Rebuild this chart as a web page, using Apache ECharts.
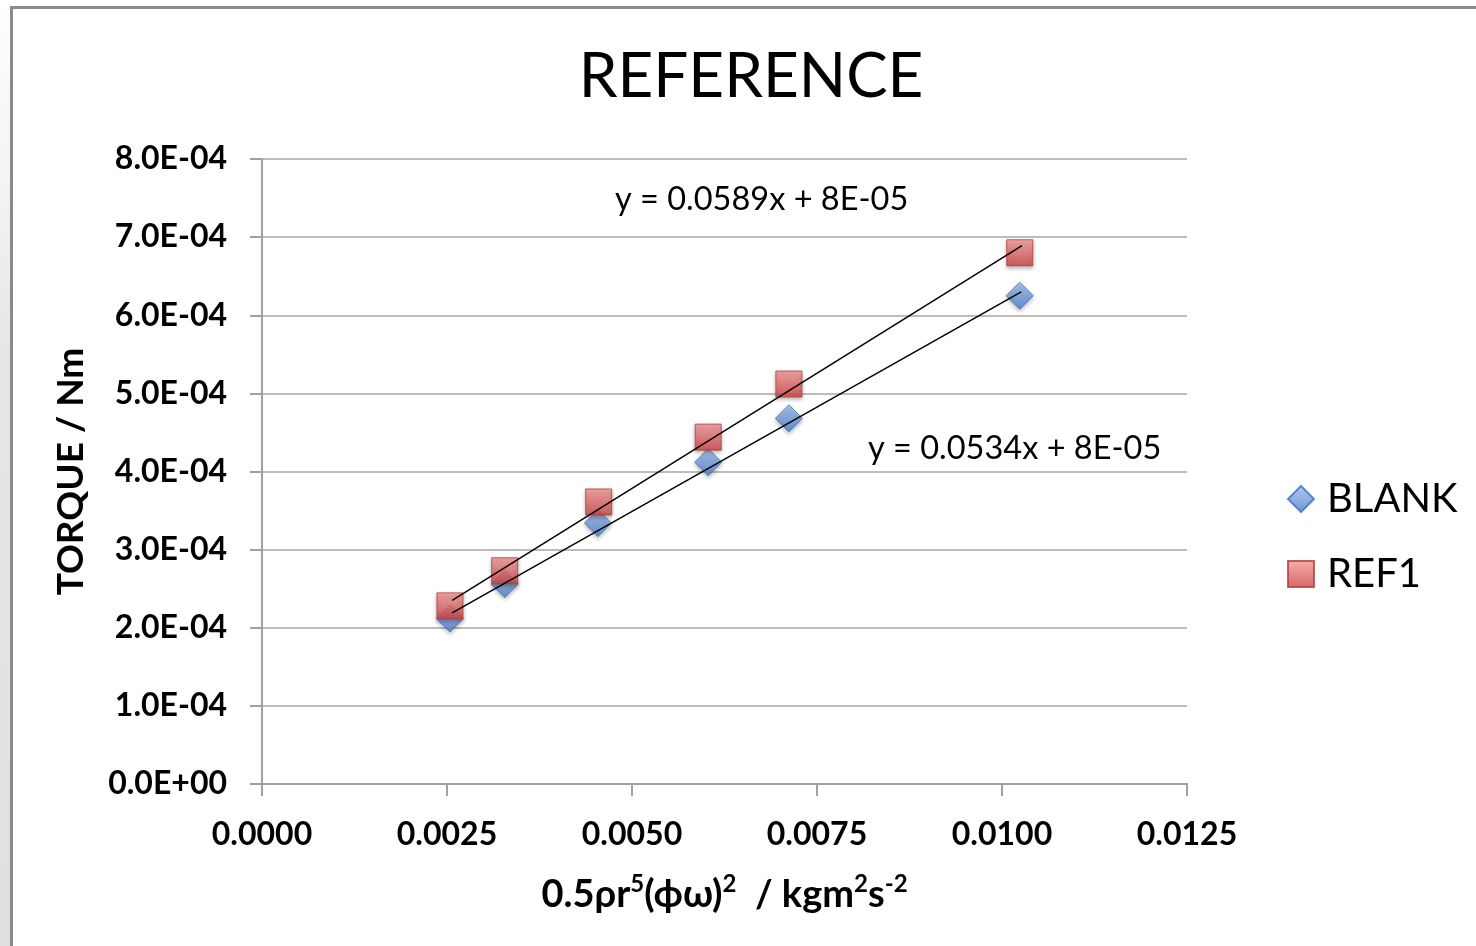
<!DOCTYPE html>
<html>
<head>
<meta charset="utf-8">
<script src="https://cdn.jsdelivr.net/npm/echarts@6/dist/echarts.min.js"></script>
<style>
  html, body { margin: 0; padding: 0; background: #fff; }
  #strip { position: absolute; left: 0; top: 0; width: 10px; height: 946px;
    background: linear-gradient(to bottom, #ffffff 0%, #e4e6e4 40%, #dfe1df 100%); }
  #frameTop { position: absolute; left: 10px; top: 6px; width: 1466px; height: 3px; background: #8a8a8a; }
  #frameLeft { position: absolute; left: 10px; top: 6px; width: 3px; height: 940px; background: #8a8a8a; }
  #chart { position: absolute; left: 0; top: 0; width: 1476px; height: 946px; }
</style>
</head>
<body>
<div id="strip"></div>
<div id="frameTop"></div>
<div id="frameLeft"></div>
<div id="chart"></div>
<script>
// values
var blankX = [0.00254, 0.00328, 0.00454, 0.00603, 0.00712, 0.01024];
var blankY = [2.12e-4, 2.56e-4, 3.34e-4, 4.12e-4, 4.68e-4, 6.25e-4];
var ref1X  = [0.00254, 0.00328, 0.00455, 0.00603, 0.00712, 0.01024];
var ref1Y  = [2.28e-4, 2.73e-4, 3.61e-4, 4.44e-4, 5.12e-4, 6.80e-4];

// trendline end points (as drawn)
var blankTrendX = [0.00257, 0.01026];
var blankTrendY = [2.19e-4, 6.30e-4];
var ref1TrendX  = [0.00257, 0.01027];
var ref1TrendY  = [2.35e-4, 6.89e-4];

var blankEq = 'y = 0.0534x + 8E-05';
var ref1Eq  = 'y = 0.0589x + 8E-05';

function pairs(xs, ys) {
  return xs.map(function (x, i) { return [x, ys[i]]; });
}

function sciLabel(v) {
  if (v === 0) return '0.0E+00';
  var s = v.toExponential(1).split('e');
  var e = parseInt(s[1], 10);
  var sign = e < 0 ? '-' : '+';
  var a = Math.abs(e);
  return s[0] + 'E' + sign + (a < 10 ? '0' + a : a);
}

var font = 'Lato, "Open Sans", sans-serif';

var blueFill = new echarts.graphic.LinearGradient(0, 0, 0, 1, [
  { offset: 0, color: '#9dbcec' },
  { offset: 1, color: '#4a7fcf' }
]);
var redFill = new echarts.graphic.LinearGradient(0, 0, 0, 1, [
  { offset: 0, color: '#f59a98' },
  { offset: 1, color: '#cf4040' }
]);

var chart = echarts.init(document.getElementById('chart'));

chart.setOption({
  backgroundColor: 'transparent',
  animation: false,
  textStyle: { fontFamily: font },
  title: {
    text: 'REFERENCE',
    left: 746,
    top: 41,
    textAlign: 'center',
    textStyle: { fontSize: 62, fontWeight: 'normal', color: '#000', fontFamily: font }
  },
  grid: { left: 262, right: 289, top: 159, bottom: 162 },
  legend: {
    orient: 'vertical',
    left: 1282,
    top: 469,
    data: ['BLANK', 'REF1'],
    itemWidth: 26,
    itemHeight: 26,
    itemGap: 25,
    textStyle: { fontSize: 40, color: '#000', lineHeight: 50, padding: [0, 0, 0, 8], fontFamily: font }
  },
  xAxis: {
    type: 'value',
    min: 0,
    max: 0.0125,
    interval: 0.0025,
    name: '{n|0.5ρr}{s|5}{n|(ϕω)}{s|2}{n|  / kgm}{s|2}{n|s}{s|-2}',
    nameLocation: 'middle',
    nameGap: 88,
    nameTextStyle: {
      rich: {
        n: { fontSize: 38, fontWeight: 'bold', color: '#000', lineHeight: 46, fontFamily: font },
        s: { fontSize: 24, fontWeight: 'bold', color: '#000', lineHeight: 26, verticalAlign: 'top', fontFamily: font }
      }
    },
    axisLine: { show: true, lineStyle: { color: '#a0a0a0', width: 2 } },
    axisTick: { show: true, length: 12, lineStyle: { color: '#a0a0a0', width: 2 } },
    splitLine: { show: false },
    axisLabel: {
      margin: 35,
      fontSize: 32,
      fontWeight: 'bold',
      color: '#000',
      fontFamily: font,
      formatter: function (v) { return v.toFixed(4); }
    }
  },
  yAxis: {
    type: 'value',
    min: 0,
    max: 8e-4,
    interval: 1e-4,
    name: 'TORQUE / Nm',
    nameLocation: 'middle',
    nameGap: 172,
    nameRotate: 90,
    nameTextStyle: { fontSize: 37, fontWeight: 'bold', color: '#000', fontFamily: font },
    axisLine: { show: true, lineStyle: { color: '#a0a0a0', width: 2 } },
    axisTick: { show: true, length: 12, lineStyle: { color: '#a0a0a0', width: 2 } },
    splitLine: { show: true, lineStyle: { color: '#a6a6a6', width: 1.5 } },
    axisLabel: {
      margin: 35,
      fontSize: 32,
      fontWeight: 'bold',
      color: '#000',
      fontFamily: font,
      formatter: sciLabel
    }
  },
  series: [
    {
      name: 'BLANK',
      type: 'scatter',
      symbol: 'diamond',
      symbolSize: [27, 27],
      z: 3,
      itemStyle: {
        color: blueFill,
        borderColor: '#3f72bf',
        borderWidth: 1,
        shadowBlur: 4,
        shadowOffsetY: 2,
        shadowColor: 'rgba(0,0,0,0.35)'
      },
      data: pairs(blankX, blankY)
    },
    {
      name: 'REF1',
      type: 'scatter',
      symbol: 'rect',
      symbolSize: [26, 26],
      z: 4,
      itemStyle: {
        color: redFill,
        borderColor: '#b83a3a',
        borderWidth: 1,
        shadowBlur: 4,
        shadowOffsetY: 2,
        shadowColor: 'rgba(0,0,0,0.35)'
      },
      data: pairs(ref1X, ref1Y)
    },
    {
      name: 'BLANK trend',
      type: 'line',
      symbol: 'none',
      z: 5,
      lineStyle: { color: '#000', width: 1.5 },
      data: pairs(blankTrendX, blankTrendY)
    },
    {
      name: 'REF1 trend',
      type: 'line',
      symbol: 'none',
      z: 5,
      lineStyle: { color: '#000', width: 1.5 },
      data: pairs(ref1TrendX, ref1TrendY)
    }
  ],
  graphic: [
    {
      type: 'text',
      left: 615,
      top: 183,
      style: { text: ref1Eq, fontSize: 32.5, fill: '#000', fontFamily: font }
    },
    {
      type: 'text',
      left: 868,
      top: 432,
      style: { text: blankEq, fontSize: 32.5, fill: '#000', fontFamily: font }
    }
  ]
});
</script>
</body>
</html>
